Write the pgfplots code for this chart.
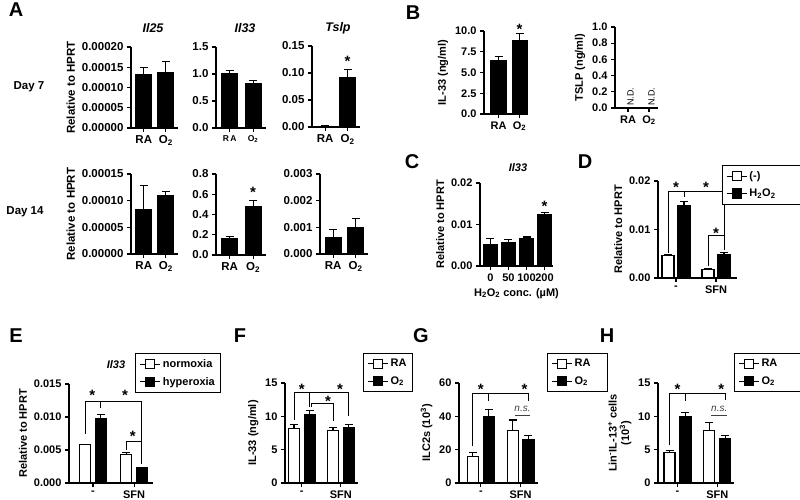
\documentclass[border=0pt]{standalone}
\usepackage{pgfplots}
\pgfplotsset{compat=1.18}
\usepackage{fontspec}
\setmainfont{Liberation Sans}
\pgfplotsset{
  gp/.style={
    scale only axis, axis lines*=left, clip=false, ymin=0, anchor=south west,
    axis line style={line width=1.1pt},
    every tick/.style={black, line width=1.1pt},
    major tick length=4pt, tick align=outside,
    scaled y ticks=false,
    /pgf/number format/assume math mode=true,
    ticklabel style={font=\bfseries\fontsize{11}{12}\selectfont},
    yticklabel style={/pgf/number format/fixed,/pgf/number format/fixed zerofill},
    label style={font=\bfseries\fontsize{11}{12.5}\selectfont},
    error bars/y dir=plus, error bars/y explicit,
    error bars/error mark options={rotate=90, mark size=4pt, line width=1.1pt, black},
    error bars/error bar style={line width=1.1pt, black},
    legend style={draw=black, line width=0.8pt, font=\bfseries\fontsize{11}{13}\selectfont, anchor=north west, inner xsep=4pt, inner ysep=4pt, row sep=4pt},
    legend cell align=left,
  },
  ga/.style={gp, ticklabel style={font=\bfseries\fontsize{11.5}{12}\selectfont}, label style={font=\bfseries\fontsize{11.5}{13}\selectfont}},
  bk/.style={ybar, bar shift=0pt, fill=black, draw=black, line width=1.1pt},
  wt/.style={ybar, bar shift=0pt, fill=white, draw=black, line width=1.1pt},
}
\tikzset{
  star/.style={font=\bfseries\fontsize{15}{15}\selectfont, anchor=base, yshift=-9pt, inner sep=0pt},
  br/.style={line width=0.9pt, black},
  ns/.style={font=\itshape\fontsize{10}{10}\selectfont, text=black!75, inner sep=0pt},
  pl/.style={font=\bfseries\fontsize{20}{20}\selectfont},
}
\newcommand{\limg}[1]{\addlegendimage{legend image code/.code={\draw[black,line width=1.1pt] (0pt,0pt)--(20pt,0pt); \draw[black,line width=1.1pt,fill=#1] (5.5pt,-4.5pt) rectangle (14.5pt,4.5pt);}}}
\begin{document}
\begin{tikzpicture}
\path[use as bounding box] (0pt,0pt) rectangle (800pt,499pt);
% ---------------- panel letters and labels
\node[pl] at (16pt,489pt) {A};
\node[pl] at (413pt,486pt) {B};
\node[pl] at (412pt,337pt) {C};
\node[pl] at (585pt,337pt) {D};
\node[pl] at (16pt,163pt) {E};
\node[pl] at (240pt,163pt) {F};
\node[pl] at (421pt,163pt) {G};
\node[pl] at (607pt,163pt) {H};
\node[font=\bfseries\itshape\fontsize{12.5}{13}\selectfont] at (153pt,471pt) {Il25};
\node[font=\bfseries\itshape\fontsize{12.5}{13}\selectfont] at (245pt,471pt) {Il33};
\node[font=\bfseries\itshape\fontsize{12.5}{13}\selectfont] at (338pt,471pt) {Tslp};
\node[font=\bfseries\fontsize{11.5}{13}\selectfont] at (29pt,412pt) {Day 7};
\node[font=\bfseries\fontsize{11.5}{13}\selectfont] at (25pt,287pt) {Day 14};
\node[font=\bfseries\itshape\fontsize{11}{12}\selectfont] at (518pt,331pt) {Il33};
\node[font=\bfseries\itshape\fontsize{11}{12}\selectfont] at (116pt,134pt) {Il33};

% ---------------- A day 7
\begin{axis}[ga, at={(131pt,371pt)}, width=47pt, height=81pt, xmin=0.42, xmax=2.55,
  ymax=0.0002, ytick={0,0.00005,0.0001,0.00015,0.0002}, yticklabel style={/pgf/number format/precision=5},
  xtick={1,2}, xticklabels={RA,O\textsubscript{2}}, ylabel={Relative to HPRT}]
\addplot[bk, bar width=16pt] coordinates {(1,0.000133) +- (0,0.000016) (2,0.000137) +- (0,0.000028)};
\end{axis}
\begin{axis}[ga, at={(216pt,371pt)}, width=50pt, height=81pt, xmin=0.42, xmax=2.55,
  ymax=1.5, ytick={0,0.5,1,1.5}, yticklabel style={/pgf/number format/precision=1},
  xtick={1,2}, xticklabels={R\,A,O\textsubscript{2}}, xticklabel style={font=\bfseries\fontsize{8.5}{9}\selectfont}]
\addplot[bk, bar width=16pt] coordinates {(1,1.0) +- (0,0.07) (2,0.82) +- (0,0.06)};
\end{axis}
\begin{axis}[ga, at={(312pt,372pt)}, width=48pt, height=81pt, xmin=0.42, xmax=2.55,
  ymax=0.15, ytick={0,0.05,0.1,0.15}, yticklabel style={/pgf/number format/precision=2},
  xtick={1,2}, xticklabels={RA,O\textsubscript{2}}]
\addplot[bk, bar width=16pt] coordinates {(1,0.0015) +- (0,0.0005) (2,0.092) +- (0,0.014)};
\node[star] at (axis cs:2,0.128) {*};
\end{axis}
% ---------------- A day 14
\begin{axis}[ga, at={(131pt,245pt)}, width=47pt, height=80pt, xmin=0.42, xmax=2.55,
  ymax=0.00015, ytick={0,0.00005,0.0001,0.00015}, yticklabel style={/pgf/number format/precision=5},
  xtick={1,2}, xticklabels={RA,O\textsubscript{2}}, ylabel={Relative to HPRT}]
\addplot[bk, bar width=16pt] coordinates {(1,0.000084) +- (0,0.000044) (2,0.000109) +- (0,0.000009)};
\end{axis}
\begin{axis}[ga, at={(216pt,244pt)}, width=50pt, height=81pt, xmin=0.42, xmax=2.55,
  ymax=0.8, ytick={0,0.2,0.4,0.6,0.8}, yticklabel style={/pgf/number format/precision=1},
  xtick={1,2}, xticklabels={RA,O\textsubscript{2}}]
\addplot[bk, bar width=16pt] coordinates {(1,0.165) +- (0,0.02) (2,0.48) +- (0,0.06)};
\node[star] at (axis cs:2,0.66) {*};
\end{axis}
\begin{axis}[ga, at={(320pt,245pt)}, width=48pt, height=80pt, xmin=0.42, xmax=2.55,
  ymax=0.003, ytick={0,0.001,0.002,0.003}, yticklabel style={/pgf/number format/precision=3},
  xtick={1,2}, xticklabels={RA,O\textsubscript{2}}]
\addplot[bk, bar width=16pt] coordinates {(1,0.00063) +- (0,0.0003) (2,0.001) +- (0,0.00033)};
\end{axis}
% ---------------- B
\begin{axis}[gp, at={(484pt,385pt)}, width=44pt, height=83pt, xmin=0.31, xmax=2.4,
  ymax=10, ytick={0,2.5,5,7.5,10}, yticklabel style={/pgf/number format/precision=1},
  xtick={1,2}, xticklabels={RA,O\textsubscript{2}}, ylabel={IL-33 (ng/ml)}]
\addplot[bk, bar width=15pt] coordinates {(1,6.4) +- (0,0.5) (2,8.8) +- (0,0.9)};
\node[star] at (axis cs:2,10.7) {*};
\end{axis}
\begin{axis}[gp, at={(615pt,391pt)}, width=43pt, height=81pt, xmin=0.38, xmax=2.43,
  ymax=1, ytick={0,0.2,0.4,0.6,0.8,1}, yticklabel style={/pgf/number format/precision=1},
  xtick={1,2}, xticklabels={RA,O\textsubscript{2}}, ylabel={TSLP (ng/ml)}]
\addplot[draw=none] coordinates {(1,0) (2,0)};
\node[rotate=90, font=\fontsize{9}{9}\selectfont] at (axis cs:1.12,0.14) {N.D.};
\node[rotate=90, font=\fontsize{9}{9}\selectfont] at (axis cs:2.12,0.14) {N.D.};
\end{axis}
% ---------------- C
\begin{axis}[gp, at={(480pt,233pt)}, width=73pt, height=83pt, xmin=0.42, xmax=4.47,
  ymax=0.02, ytick={0,0.01,0.02}, yticklabel style={/pgf/number format/precision=2},
  xtick={1,2,3,4}, xticklabels={0,50,100,200}, ylabel={Relative to HPRT},
  xlabel={H\textsubscript{2}O\textsubscript{2} conc. (µM)}]
\addplot[bk, bar width=13pt] coordinates {(1,0.0052) +- (0,0.0015) (2,0.0056) +- (0,0.0008) (3,0.0066) +- (0,0.0004) (4,0.0124) +- (0,0.0006)};
\node[star] at (axis cs:4,0.0152) {*};
\end{axis}
% ---------------- D
\begin{axis}[gp, at={(658pt,221pt)}, width=79pt, height=97pt, xmin=0.55, xmax=2.525,
  ymax=0.02, ytick={0,0.01,0.02}, yticklabel style={/pgf/number format/precision=2},
  xtick={1,2}, xticklabels={-,SFN}, ylabel={Relative to HPRT},
  legend style={at={(0.81,1.165)}}]
\limg{white}
\limg{black}
\addplot[wt, bar width=12pt, forget plot] coordinates {(0.8,0.0046) +- (0,0.0002) (1.8,0.0018) +- (0,0.0001)};
\addplot[bk, bar width=12pt, forget plot] coordinates {(1.2,0.0149) +- (0,0.0009) (2.2,0.0049) +- (0,0.0003)};
\legend{\makebox[46pt][l]{(-)},H\textsubscript{2}O\textsubscript{2}}
\draw[br] (axis cs:0.8,0.0052) |- (axis cs:2.2,0.0178) -- (axis cs:2.2,0.0058);
\draw[br] (axis cs:1.2,0.0178) -- (axis cs:1.2,0.0168);
\draw[br] (axis cs:1.8,0.0025) |- (axis cs:2.2,0.0088);
\node[star] at (axis cs:1.0,0.0194) {*};
\node[star] at (axis cs:1.75,0.0194) {*};
\node[star] at (axis cs:2.0,0.0100) {*};
\end{axis}
% ---------------- E
\begin{axis}[gp, at={(69pt,16pt)}, width=84pt, height=99pt, xmin=0.415, xmax=2.46,
  ymax=0.015, ytick={0,0.005,0.01,0.015}, yticklabel style={/pgf/number format/precision=3},
  xtick={1,2}, xticklabels={-,SFN}, ylabel={Relative to HPRT},
  legend style={at={(0.79,1.31)}}]
\limg{white}
\limg{black}
\addplot[wt, bar width=11pt, forget plot] coordinates {(0.81,0.0058) +- (0,0.0001) (1.81,0.0043) +- (0,0.0003)};
\addplot[bk, bar width=11pt, forget plot] coordinates {(1.19,0.0097) +- (0,0.0007) (2.19,0.0023) +- (0,0.0001)};
\legend{normoxia,hyperoxia}
\draw[br] (axis cs:0.81,0.0075) |- (axis cs:2.19,0.0123) -- (axis cs:2.19,0.0029);
\draw[br] (axis cs:1.19,0.0123) -- (axis cs:1.19,0.0114);
\draw[br] (axis cs:1.81,0.005) |- (axis cs:2.19,0.0063);
\node[star] at (axis cs:0.98,0.0138) {*};
\node[star] at (axis cs:1.78,0.0138) {*};
\node[star] at (axis cs:1.97,0.0076) {*};
\end{axis}
% ---------------- F
\begin{axis}[gp, at={(285pt,16pt)}, width=73pt, height=100pt, xmin=0.57, xmax=2.44,
  ymax=15, ytick={0,5,10,15}, yticklabel style={/pgf/number format/precision=0},
  xtick={1,2}, xticklabels={-,SFN}, ylabel={IL-33 (ng/ml)},
  legend style={at={(1.07,1.30)}}]
\limg{white}
\limg{black}
\addplot[wt, bar width=11pt, forget plot] coordinates {(0.8,8.2) +- (0,0.6) (1.8,7.9) +- (0,0.4)};
\addplot[bk, bar width=11pt, forget plot] coordinates {(1.2,10.3) +- (0,0.6) (2.2,8.3) +- (0,0.5)};
\legend{RA,O\textsubscript{2}}
\draw[br] (axis cs:0.8,9.5) |- (axis cs:2.2,13.6) -- (axis cs:2.2,10.0);
\draw[br] (axis cs:1.19,13.6) -- (axis cs:1.19,11.4);
\draw[br] (axis cs:1.24,11.4) |- (axis cs:1.8,12.0) -- (axis cs:1.8,9.3);
\node[star] at (axis cs:1.0,14.7) {*};
\node[star] at (axis cs:1.98,14.7) {*};
\node[star] at (axis cs:1.67,12.8) {*};
\end{axis}
% ---------------- G
\begin{axis}[gp, at={(459pt,16pt)}, width=79pt, height=100pt, xmin=0.45, xmax=2.44,
  ymax=60, ytick={0,20,40,60}, yticklabel style={/pgf/number format/precision=0},
  xtick={1,2}, xticklabels={-,SFN}, ylabel={ILC2s (10\textsuperscript{3})},
  legend style={at={(1.115,1.30)}}]
\limg{white}
\limg{black}
\addplot[wt, bar width=11pt, forget plot] coordinates {(0.8,15.8) +- (0,2.7) (1.8,31.5) +- (0,6.3)};
\addplot[bk, bar width=11pt, forget plot] coordinates {(1.2,39.8) +- (0,4.2) (2.2,26.3) +- (0,2.3)};
\legend{\makebox[27pt][l]{RA},O\textsubscript{2}}
\draw[br] (axis cs:0.8,22) |- (axis cs:2.2,54) -- (axis cs:2.2,49);
\draw[br] (axis cs:1.2,54) -- (axis cs:1.2,49);
\node[star] at (axis cs:1.0,58.6) {*};
\node[star] at (axis cs:2.1,58.6) {*};
\node[ns] at (axis cs:2.05,44.5) {n.s.};
\draw[line width=0.6pt, black!75] (axis cs:1.85,40.7) -- (axis cs:2.25,40.7);
\end{axis}
% ---------------- H
\begin{axis}[gp, at={(658pt,16pt)}, width=76pt, height=100pt, xmin=0.51, xmax=2.42,
  ymax=15, ytick={0,5,10,15}, yticklabel style={/pgf/number format/precision=0},
  xtick={1,2}, xticklabels={-,SFN}, ylabel={Lin\textsuperscript{-}IL-13\textsuperscript{+} cells\\(10\textsuperscript{3})},
  ylabel style={align=center},
  legend style={at={(1.0,1.30)}}]
\limg{white}
\limg{black}
\addplot[wt, bar width=11pt, forget plot] coordinates {(0.8,4.6) +- (0,0.3) (1.8,7.9) +- (0,1.2)};
\addplot[bk, bar width=11pt, forget plot] coordinates {(1.2,9.95) +- (0,0.65) (2.2,6.6) +- (0,0.55)};
\legend{\makebox[36pt][l]{RA},O\textsubscript{2}}
\draw[br] (axis cs:0.8,5.65) |- (axis cs:2.2,13.5) -- (axis cs:2.2,12.4);
\draw[br] (axis cs:1.2,13.5) -- (axis cs:1.2,12.25);
\node[star] at (axis cs:1.0,14.65) {*};
\node[star] at (axis cs:2.1,14.65) {*};
\node[ns] at (axis cs:2.05,11.1) {n.s.};
\draw[line width=0.6pt, black!75] (axis cs:1.85,10.15) -- (axis cs:2.25,10.15);
\end{axis}
\end{tikzpicture}
\end{document}
